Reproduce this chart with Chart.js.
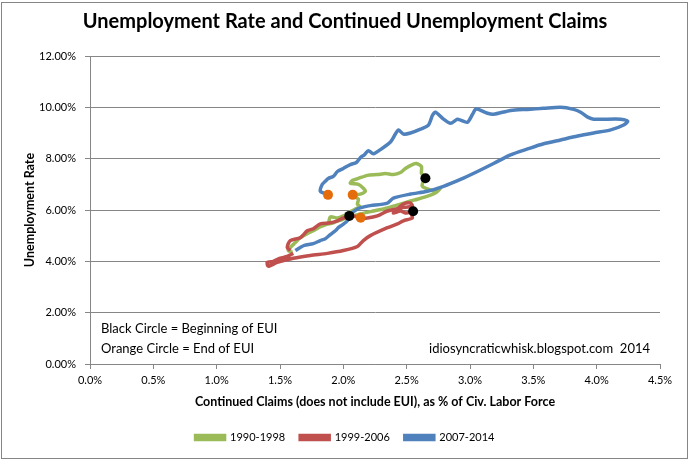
<!DOCTYPE html>
<html>
<head>
<meta charset="utf-8">
<script src="https://cdn.jsdelivr.net/npm/chart.js@4.4.1/dist/chart.umd.min.js"></script>
<style>
  html, body { margin: 0; padding: 0; background: #fff; }
  #wrap { position: relative; width: 690px; height: 461px; }
</style>
</head>
<body>
<div id="wrap"><canvas id="chart" width="690" height="461"></canvas></div>
<script>
// x = continued claims as % of civ. labor force, y = unemployment rate (%)
const claims9098 = [1.779,1.858,1.921,2.000,2.055,2.134,2.237,2.316,2.395,2.451,2.530,2.585,2.688,2.735,2.767,2.735,2.672,2.625,2.625,2.648,2.617,2.617,2.577,2.545,2.490,2.451,2.395,2.332,2.269,2.190,2.119,2.071,2.055,2.119,2.158,2.174,2.134,2.071,2.119,2.111,2.134,2.095,2.040,2.000,1.953,1.897,1.881,1.818,1.763,1.715,1.660,1.621,1.581,1.565,1.597];
const rate9098 = [5.27,5.42,5.50,5.65,5.73,5.85,5.96,6.04,6.15,6.23,6.35,6.42,6.58,6.69,6.85,6.73,6.81,6.92,7.04,7.23,7.42,7.69,7.81,7.77,7.62,7.46,7.38,7.42,7.38,7.35,7.23,7.15,7.04,7.00,6.85,6.73,6.62,6.58,6.42,6.23,6.12,6.04,5.88,5.77,5.69,5.73,5.50,5.35,5.19,5.08,4.92,4.73,4.54,4.42,4.35];

const claims9906 = [1.605,1.557,1.502,1.447,1.399,1.407,1.478,1.605,1.739,1.874,2.000,2.111,2.158,2.213,2.348,2.427,2.474,2.545,2.538,2.553,2.498,2.451,2.395,2.427,2.474,2.530,2.545,2.451,2.348,2.269,2.190,2.134,2.079,2.000,1.953,1.897,1.818,1.763,1.715,1.660,1.581,1.557,1.581];
const rate9906 = [4.31,4.19,4.12,4.00,3.96,3.81,3.96,4.12,4.23,4.31,4.42,4.58,4.81,5.00,5.31,5.46,5.58,5.69,5.85,5.96,5.88,5.96,5.88,6.04,6.23,6.27,6.15,6.08,5.96,5.77,5.69,5.69,5.77,5.69,5.58,5.50,5.46,5.27,5.19,4.92,4.81,4.54,4.42];

const claims0714 = [1.621,1.660,1.692,1.763,1.818,1.858,1.897,1.937,1.960,1.992,2.032,2.047,2.111,2.190,2.348,2.395,2.530,2.664,2.791,2.925,3.059,3.186,3.320,3.455,3.581,3.715,3.850,3.976,4.111,4.213,4.245,4.190,3.976,3.929,3.874,3.818,3.715,3.581,3.455,3.320,3.186,3.138,3.067,3.043,3.020,2.980,2.925,2.901,2.846,2.791,2.727,2.704,2.672,2.609,2.530,2.474,2.435,2.411,2.372,2.292,2.237,2.198,2.166,2.134,2.103,2.055,2.000,1.953,1.921,1.881,1.858,1.834,1.818,1.850,1.881];
const rate0714 = [4.42,4.54,4.62,4.69,4.81,4.88,5.04,5.19,5.31,5.42,5.58,5.77,6.04,6.15,6.27,6.46,6.62,6.73,6.92,7.19,7.50,7.81,8.15,8.38,8.58,8.73,8.88,9.00,9.12,9.31,9.46,9.54,9.54,9.62,9.81,9.92,10.00,9.96,9.92,9.88,9.73,9.77,9.92,9.92,9.73,9.42,9.50,9.54,9.38,9.54,9.81,9.69,9.31,9.15,9.00,8.96,9.12,8.96,8.65,8.35,8.19,8.31,8.15,8.04,7.85,7.77,7.62,7.50,7.31,7.23,7.12,7.00,6.73,6.65,6.58];

// EUI program start / end points
const euiStartClaims = [2.648, 2.551, 2.047];
const euiStartRate = [7.24, 5.95, 5.77];
const euiEndClaims = [2.074, 2.137, 1.879];
const euiEndRate = [6.59, 5.70, 6.59];

const seriesNames = ['1990-1998', '1999-2006', '2007-2014'];
const xTickLabels = ['0.0%','0.5%','1.0%','1.5%','2.0%','2.5%','3.0%','3.5%','4.0%','4.5%'];
const yTickLabels = ['0.00%','2.00%','4.00%','6.00%','8.00%','10.00%','12.00%'];

const pts = (xs, ys) => xs.map((x, i) => ({ x: x, y: ys[i] }));

const FONT = 'Lato, "Open Sans", sans-serif';
const GRID = '#868686';

const lineSet = (label, xs, ys, color, order) => ({
  label: label,
  data: pts(xs, ys),
  showLine: true,
  borderColor: color,
  backgroundColor: color,
  borderWidth: 3.5,
  pointRadius: 0,
  tension: 0.25,
  order: order
});

// frame + free text notes
const extras = {
  id: 'extras',
  beforeDraw(chart) {
    const c = chart.ctx;
    c.save();
    c.fillStyle = '#fff';
    c.fillRect(0, 0, chart.width, chart.height);
    c.strokeStyle = GRID;
    c.lineWidth = 1;
    c.strokeRect(1.5, 2.5, 686, 456);
    c.restore();
  },
  afterDraw(chart) {
    const c = chart.ctx;
    const a = chart.chartArea;
    c.save();
    c.font = '13px ' + FONT;
    c.fillStyle = '#000';
    c.textBaseline = 'middle';
    c.textAlign = 'left';
    c.fillText('Black Circle = Beginning of EUI', a.left + 11, a.bottom - 35);
    c.fillText('Orange Circle = End of EUI', a.left + 11, a.bottom - 15);
    c.textAlign = 'right';
    c.fillText('idiosyncraticwhisk.blogspot.com  2014', a.right - 10, a.bottom - 15);
    c.restore();
  }
};

new Chart(document.getElementById('chart'), {
  type: 'scatter',
  data: {
    datasets: [
      lineSet(seriesNames[0], claims9098, rate9098, '#9BBB59', 3),
      lineSet(seriesNames[1], claims9906, rate9906, '#C0504D', 2),
      lineSet(seriesNames[2], claims0714, rate0714, '#4F81BD', 1),
      {
        label: 'start',
        data: pts(euiStartClaims, euiStartRate),
        pointRadius: 5,
        pointBackgroundColor: '#000',
        pointBorderWidth: 0,
        order: 0
      },
      {
        label: 'end',
        data: pts(euiEndClaims, euiEndRate),
        pointRadius: 5,
        pointBackgroundColor: '#E46C0A',
        pointBorderWidth: 0,
        order: 0
      }
    ]
  },
  options: {
    responsive: false,
    animation: false,
    devicePixelRatio: 1,
    layout: { padding: { left: 0, right: 0, top: 0, bottom: 8 } },
    scales: {
      x: {
        min: 0, max: 4.5,
        afterFit: (s) => { s.height = 53; },
        border: { color: GRID },
        grid: { drawOnChartArea: false, tickLength: 5, color: GRID },
        ticks: {
          stepSize: 0.5,
          padding: 5,
          color: '#000',
          font: { family: FONT, size: 11 },
          callback: (v, i) => xTickLabels[i]
        },
        title: {
          display: true,
          text: 'Continued Claims (does not include EUI), as % of Civ. Labor Force',
          color: '#000',
          font: { family: FONT, size: 12.5, weight: 'bold' },
          padding: { top: 0, bottom: 8 }
        }
      },
      y: {
        min: 0, max: 12,
        afterFit: (s) => { s.width = 90; },
        border: { color: GRID },
        grid: { tickLength: 5, color: GRID },
        ticks: {
          stepSize: 2,
          padding: 9,
          color: '#000',
          font: { family: FONT, size: 11 },
          callback: (v, i) => yTickLabels[i]
        },
        title: {
          display: true,
          text: 'Unemployment Rate',
          color: '#000',
          font: { family: FONT, size: 12.5, weight: 'bold' },
          padding: { top: 22, bottom: 0 }
        }
      },
      // empty right-hand gutter so title and legend stay centred on the frame
      gutter: {
        position: 'right',
        afterFit: (s) => { s.width = 30; },
        border: { display: false },
        grid: { display: false },
        ticks: { display: false }
      }
    },
    plugins: {
      title: {
        display: true,
        text: 'Unemployment Rate and Continued Unemployment Claims',
        color: '#000',
        font: { family: FONT, size: 20, weight: 'bold' },
        padding: { top: 10, bottom: 22 }
      },
      legend: {
        position: 'bottom',
        labels: {
          color: '#000',
          font: { family: FONT, size: 11 },
          boxWidth: 29,
          boxHeight: 4,
          padding: 15,
          filter: (item) => item.datasetIndex < 3,
          sort: (a, b) => a.datasetIndex - b.datasetIndex
        }
      },
      tooltip: { enabled: false }
    }
  },
  plugins: [extras]
});
</script>
</body>
</html>
